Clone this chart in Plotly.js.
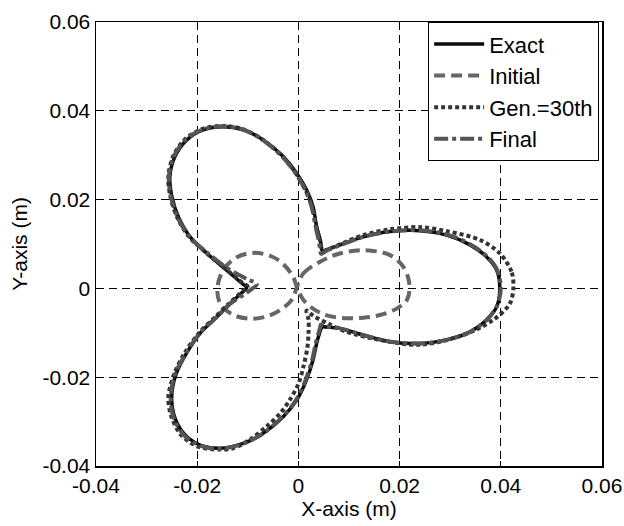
<!DOCTYPE html>
<html>
<head>
<meta charset="utf-8">
<script src="https://cdn.plot.ly/plotly-3.0.1.min.js"></script>
<style>
html,body{margin:0;padding:0;background:#fff;}
#chart{width:624px;height:526px;}
</style>
</head>
<body>
<div id="chart"></div>
<script>
// ---- data ----
var seriesNames = ['Exact', 'Initial', 'Gen.=30th', 'Final'];

var exactX = [0.0398, 0.0392, 0.0372, 0.0339, 0.0293, 0.0240, 0.0181, 0.0128, 0.0082, 0.0056, 0.0049, 0.0046, 0.0044, 0.0036, 0.0029, 0.0016, -0.0003, -0.0030, -0.0069, -0.0109, -0.0148, -0.0188, -0.0221, -0.0244, -0.0254, -0.0250, -0.0237, -0.0214, -0.0181, -0.0142, -0.0110, -0.0102, -0.0110, -0.0135, -0.0161, -0.0194, -0.0221, -0.0241, -0.0250, -0.0247, -0.0227, -0.0194, -0.0155, -0.0109, -0.0069, -0.0030, -0.0003, 0.0016, 0.0029, 0.0036, 0.0042, 0.0045, 0.0046, 0.0054, 0.0082, 0.0128, 0.0181, 0.0240, 0.0293, 0.0339, 0.0372, 0.0392, 0.0398];
var exactY = [0.0000, 0.0041, 0.0071, 0.0098, 0.0120, 0.0130, 0.0128, 0.0116, 0.0098, 0.0087, 0.0083, 0.0088, 0.0105, 0.0139, 0.0184, 0.0222, 0.0259, 0.0297, 0.0334, 0.0357, 0.0364, 0.0357, 0.0334, 0.0297, 0.0252, 0.0207, 0.0161, 0.0116, 0.0079, 0.0041, 0.0010, 0.0002, -0.0008, -0.0034, -0.0064, -0.0101, -0.0146, -0.0191, -0.0236, -0.0281, -0.0326, -0.0353, -0.0360, -0.0349, -0.0326, -0.0289, -0.0251, -0.0206, -0.0161, -0.0124, -0.0100, -0.0090, -0.0086, -0.0087, -0.0090, -0.0105, -0.0120, -0.0124, -0.0116, -0.0098, -0.0071, -0.0041, 0.0000];

var initialX = [-0.0003, 0.0010, 0.0043, 0.0080, 0.0128, 0.0181, 0.0207, 0.0219, 0.0215, 0.0195, 0.0161, 0.0128, 0.0095, 0.0060, 0.0035, 0.0010, -0.0003, -0.0010, -0.0030, -0.0055, -0.0089, -0.0122, -0.0148, -0.0160, -0.0155, -0.0132, -0.0098, -0.0065, -0.0035, -0.0012, -0.0003];
var initialY = [0.0003, 0.0034, 0.0060, 0.0078, 0.0086, 0.0075, 0.0049, 0.0012, -0.0025, -0.0045, -0.0060, -0.0066, -0.0067, -0.0062, -0.0050, -0.0026, 0.0003, 0.0025, 0.0055, 0.0073, 0.0080, 0.0070, 0.0042, 0.0002, -0.0033, -0.0058, -0.0068, -0.0064, -0.0048, -0.0024, 0.0003];

var genX = [0.0425, 0.0421, 0.0398, 0.0359, 0.0293, 0.0240, 0.0181, 0.0128, 0.0084, 0.0058, 0.0050, 0.0046, 0.0043, 0.0035, 0.0027, 0.0013, -0.0006, -0.0033, -0.0072, -0.0111, -0.0150, -0.0190, -0.0224, -0.0247, -0.0257, -0.0253, -0.0240, -0.0216, -0.0182, -0.0142, -0.0110, -0.0100, -0.0110, -0.0137, -0.0164, -0.0197, -0.0225, -0.0245, -0.0257, -0.0252, -0.0232, -0.0197, -0.0155, -0.0129, -0.0095, -0.0063, -0.0035, -0.0017, 0.0000, 0.0010, 0.0018, 0.0020, 0.0020, 0.0016, 0.0030, 0.0060, 0.0095, 0.0161, 0.0240, 0.0326, 0.0385, 0.0418, 0.0425];
var genY = [0.0005, 0.0038, 0.0079, 0.0109, 0.0129, 0.0138, 0.0133, 0.0120, 0.0100, 0.0088, 0.0085, 0.0090, 0.0107, 0.0141, 0.0186, 0.0224, 0.0261, 0.0299, 0.0336, 0.0359, 0.0366, 0.0359, 0.0336, 0.0299, 0.0252, 0.0207, 0.0161, 0.0116, 0.0080, 0.0042, 0.0012, 0.0004, -0.0006, -0.0034, -0.0064, -0.0101, -0.0146, -0.0191, -0.0244, -0.0285, -0.0330, -0.0357, -0.0363, -0.0360, -0.0340, -0.0311, -0.0280, -0.0251, -0.0215, -0.0176, -0.0131, -0.0100, -0.0070, -0.0050, -0.0062, -0.0080, -0.0098, -0.0116, -0.0127, -0.0105, -0.0071, -0.0034, 0.0005];

var finalX = [0.0400, 0.0393, 0.0373, 0.0340, 0.0294, 0.0240, 0.0181, 0.0128, 0.0082, 0.0054, 0.0045, 0.0043, 0.0041, 0.0034, 0.0026, 0.0013, -0.0006, -0.0033, -0.0071, -0.0110, -0.0149, -0.0189, -0.0223, -0.0246, -0.0256, -0.0252, -0.0239, -0.0215, -0.0181, -0.0140, -0.0100, -0.0082, -0.0100, -0.0134, -0.0161, -0.0195, -0.0222, -0.0243, -0.0252, -0.0249, -0.0229, -0.0195, -0.0155, -0.0110, -0.0070, -0.0032, -0.0005, 0.0014, 0.0027, 0.0034, 0.0040, 0.0043, 0.0044, 0.0052, 0.0082, 0.0128, 0.0181, 0.0240, 0.0293, 0.0339, 0.0372, 0.0392, 0.0400];
var finalY = [0.0000, 0.0041, 0.0072, 0.0099, 0.0121, 0.0131, 0.0128, 0.0116, 0.0097, 0.0084, 0.0078, 0.0085, 0.0103, 0.0139, 0.0184, 0.0223, 0.0260, 0.0298, 0.0335, 0.0358, 0.0365, 0.0358, 0.0335, 0.0298, 0.0252, 0.0207, 0.0161, 0.0116, 0.0081, 0.0045, 0.0020, 0.0010, -0.0008, -0.0034, -0.0064, -0.0101, -0.0146, -0.0191, -0.0236, -0.0282, -0.0327, -0.0354, -0.0361, -0.0350, -0.0327, -0.0290, -0.0252, -0.0207, -0.0162, -0.0125, -0.0100, -0.0088, -0.0082, -0.0085, -0.0090, -0.0105, -0.0120, -0.0124, -0.0116, -0.0098, -0.0071, -0.0041, 0.0000];

var tickVals = [-0.04, -0.02, 0, 0.02, 0.04, 0.06];
var tickText = ['-0.04', '-0.02', '0', '0.02', '0.04', '0.06'];

// ---- chart ----
var FONT = 'Liberation Sans, Arial, sans-serif';
var traces = [
  {x: exactX, y: exactY, name: seriesNames[0], mode: 'lines',
   line: {color: '#0a0a0a', width: 3.5, dash: 'solid', shape: 'spline', smoothing: 0.9}},
  {x: initialX, y: initialY, name: seriesNames[1], mode: 'lines',
   line: {color: '#666666', width: 4, dash: '11px,6px', shape: 'spline', smoothing: 1}},
  {x: genX, y: genY, name: seriesNames[2], mode: 'lines',
   line: {color: '#333333', width: 4, dash: '4px,3px', shape: 'spline', smoothing: 0.9}},
  {x: finalX, y: finalY, name: seriesNames[3], mode: 'lines',
   line: {color: '#555555', width: 4, dash: '14px,4px,4px,4px', shape: 'spline', smoothing: 0.9}}
];

var axisCommon = {
  range: [-0.04, 0.06],
  tickmode: 'array',
  tickvals: tickVals,
  ticktext: tickText,
  ticks: 'inside',
  ticklen: 5,
  tickcolor: '#000',
  showline: true,
  mirror: true,
  linecolor: '#000',
  linewidth: 1.5,
  showgrid: true,
  gridcolor: '#000',
  gridwidth: 1,
  griddash: '8px,5px',
  zeroline: false,
  tickfont: {family: FONT, size: 21, color: '#000'}
};

var layout = {
  width: 624,
  height: 526,
  margin: {l: 96, r: 22, t: 22, b: 60},
  paper_bgcolor: '#fff',
  plot_bgcolor: '#fff',
  font: {family: FONT, size: 21, color: '#000'},
  showlegend: true,
  legend: {
    x: 0.656, y: 1, xanchor: 'left', yanchor: 'top',
    bgcolor: '#fff', bordercolor: '#000', borderwidth: 1.2,
    font: {family: FONT, size: 22, color: '#000'},
    itemwidth: 50,
    tracegroupgap: 0
  },
  xaxis: Object.assign({}, axisCommon, {
    ticklabelstandoff: 0,
    title: {text: 'X-axis (m)', font: {family: FONT, size: 21, color: '#000'}, standoff: 0}
  }),
  yaxis: Object.assign({}, axisCommon, {
    title: {text: 'Y-axis (m)', font: {family: FONT, size: 21, color: '#000'}, standoff: 9}
  })
};

Plotly.newPlot('chart', traces, layout, {displayModeBar: false, staticPlot: true});
</script>
</body>
</html>
